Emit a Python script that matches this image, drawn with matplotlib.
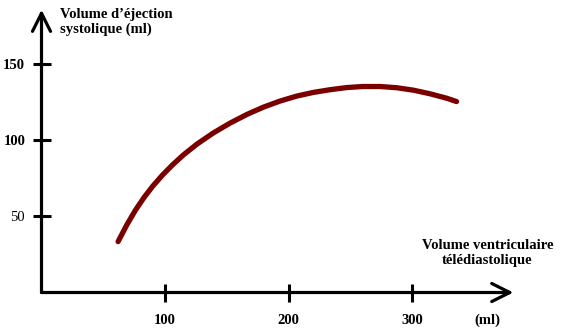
import matplotlib
matplotlib.use("Agg")
import matplotlib.pyplot as plt

# Data
edv = [62, 69, 76, 83, 90, 98, 106, 115, 126, 139, 152.6, 166.2, 179.6,
       193, 206.6, 220, 233.6, 247, 260, 274, 287.5, 301, 314.6, 328, 336]
sv = [33.5, 44.4, 54.1, 62.5, 69.9, 77.3, 83.9, 90.6, 97.7, 104.9, 111.4, 117.1,
      121.9, 125.9, 129.2, 131.6, 133.4, 134.8, 135.5, 135.5, 134.7, 133.1, 130.7,
      127.8, 125.6]
xticks = [100, 200, 300]
xticklabels = ["100", "200", "300"]
yticks = [50, 100, 150]
yticklabels = ["50", "100", "150"]

fig = plt.figure(figsize=(5.64, 3.29), dpi=100)
ax = fig.add_axes([0, 0, 1, 1])
ax.set_xlim(-33.6, 423)
ax.set_ylim(-24, 192.4)

serif = ["Liberation Serif", "DejaVu Serif"]
axis_lw = 2.3

for s in ax.spines.values():
    s.set_color("none")
ax.spines["left"].set_position(("data", 0))
ax.spines["bottom"].set_position(("data", 0))

# axis arrows
ax.annotate("", xy=(0, 186), xytext=(0, 0),
            arrowprops=dict(arrowstyle="->,head_length=1.3,head_width=0.65",
                            lw=axis_lw, color="black", shrinkA=0, shrinkB=0,
                            mutation_scale=10))
ax.annotate("", xy=(382, 0), xytext=(0, 0),
            arrowprops=dict(arrowstyle="->,head_length=1.3,head_width=0.65",
                            lw=axis_lw, color="black", shrinkA=0, shrinkB=0,
                            mutation_scale=10))

ax.plot(edv, sv, color="#7a0000", lw=3.8, solid_capstyle="round",
        solid_joinstyle="round")

ax.set_xticks(xticks)
ax.set_xticklabels(xticklabels, fontfamily=serif, fontweight="bold", fontsize=10.5)
ax.set_yticks(yticks)
ax.set_yticklabels(yticklabels, fontfamily=serif, fontsize=10.5)
for lab in ax.get_yticklabels():
    if lab.get_text() != "50":
        lab.set_fontweight("bold")
ax.tick_params(axis="both", direction="inout", length=13.5, width=2.2, color="black")
ax.tick_params(axis="x", pad=9)
ax.tick_params(axis="y", pad=5)

ax.text(15, 187, "Volume d’éjection\nsystolique (ml)", fontfamily=serif,
        fontweight="bold", fontsize=10.5, ha="left", va="top", linespacing=1.15)
ax.text(361, 26, "Volume ventriculaire\ntélédiastolique", fontfamily=serif,
        fontweight="bold", fontsize=10.5, ha="center", va="center", linespacing=1.15)
ax.text(361, -18, "(ml)", fontfamily=serif, fontweight="bold", fontsize=10.5,
        ha="center", va="center")

fig.savefig("out.png", dpi=100)
